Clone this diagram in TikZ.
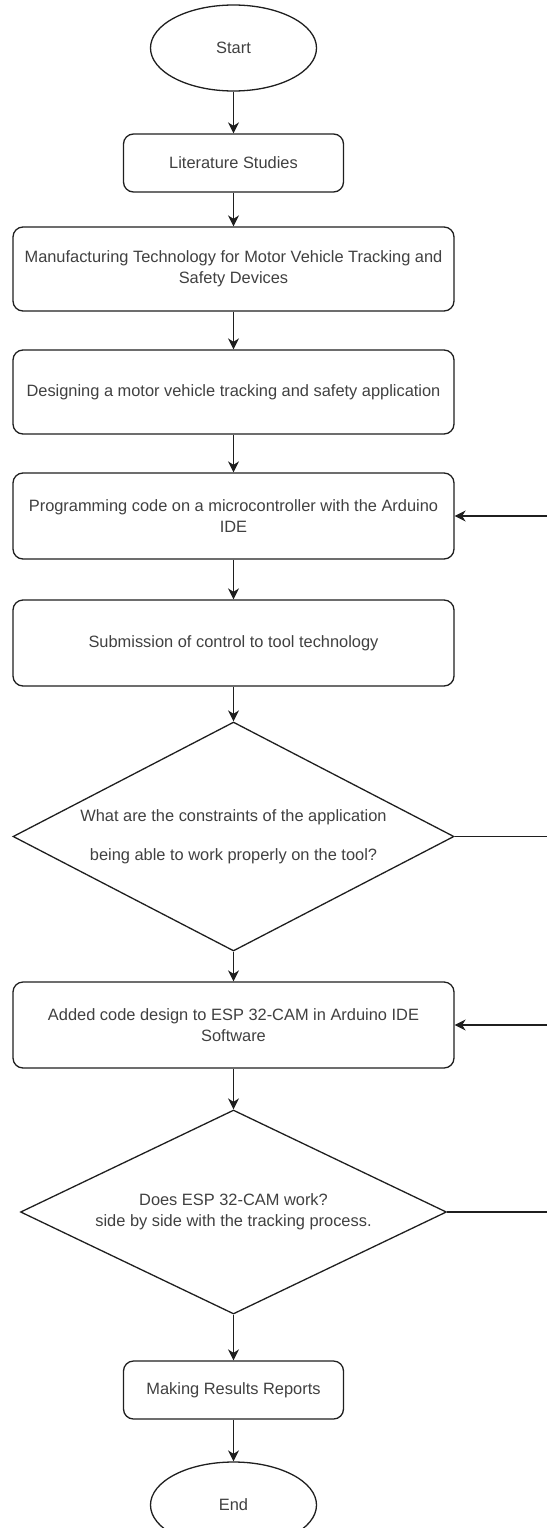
\documentclass[tikz,border=0pt]{standalone}
\usepackage{fontspec}
\setmainfont{Liberation Sans}
\usetikzlibrary{shapes.geometric,arrows.meta}
\definecolor{txt}{rgb}{0.25,0.25,0.25}
\definecolor{ln}{rgb}{0.12,0.12,0.12}
\tikzset{
  base/.style={draw=ln, line width=1.3pt, text=txt, font=\fontsize{16.4}{21}\selectfont, align=center, inner sep=0pt},
  term/.style={base, ellipse, minimum width=166pt, minimum height=86pt},
  proc/.style={base, rectangle, rounded corners=10pt, minimum height=86pt, minimum width=441pt},
  sproc/.style={base, rectangle, rounded corners=10pt, minimum height=58pt, minimum width=220pt},
  decide/.style={base, diamond, shape aspect=1.93},
  flow/.style={draw=ln, line width=1.3pt, -{Stealth[length=11pt,width=11pt,inset=3.5pt]}},
  plain/.style={draw=ln, line width=1.3pt}
}
\begin{document}
\begin{tikzpicture}[x=1pt,y=-1pt]
\useasboundingbox (0,0) rectangle (546,1528);
\node[term] (start) at (233.5,48) {Start};
\node[sproc] (lit) at (233.5,163) {Literature Studies};
\node[proc, minimum height=84pt] (mfg) at (233.5,269) {Manufacturing Technology for Motor Vehicle Tracking and\\Safety Devices};
\node[proc, minimum height=84pt] (des) at (233.5,392) {Designing a motor vehicle tracking and safety application};
\node[proc] (prog) at (233.5,516) {Programming code on a microcontroller with the Arduino\\IDE};
\node[proc] (sub) at (233.5,643) {Submission of control to tool technology};
\node[decide, minimum width=441pt, minimum height=229pt] (dec1) at (233.5,836.5) {What are the constraints of the application\\[18pt]being able to work properly on the tool?};
\node[proc] (add) at (233.5,1025) {Added code design to ESP 32-CAM in Arduino IDE\\Software};
\node[decide, minimum width=426pt, minimum height=204pt] (dec2) at (233.5,1212) {Does ESP 32-CAM work?\\side by side with the tracking process.};
\node[sproc] (rep) at (233.5,1390) {Making Results Reports};
\node[term] (end) at (233.5,1505) {End};

\coordinate (r1) at (547,836.5);
\coordinate (r2) at (547,1212);
\coordinate (r3) at (547,516);
\coordinate (r4) at (547,1025);

\draw[flow] (start) -- (lit);
\draw[flow] (lit) -- (mfg);
\draw[flow] (mfg) -- (des);
\draw[flow] (des) -- (prog);
\draw[flow] (prog) -- (sub);
\draw[flow] (sub) -- (dec1);
\draw[flow] (dec1) -- (add);
\draw[flow] (add) -- (dec2);
\draw[flow] (dec2) -- (rep);
\draw[flow] (rep) -- (end);
\draw[plain] (dec1.east) -- (r1);
\draw[plain] (dec2.east) -- (r2);
\draw[flow] (r3) -- (prog.east);
\draw[flow] (r4) -- (add.east);
\end{tikzpicture}
\end{document}
